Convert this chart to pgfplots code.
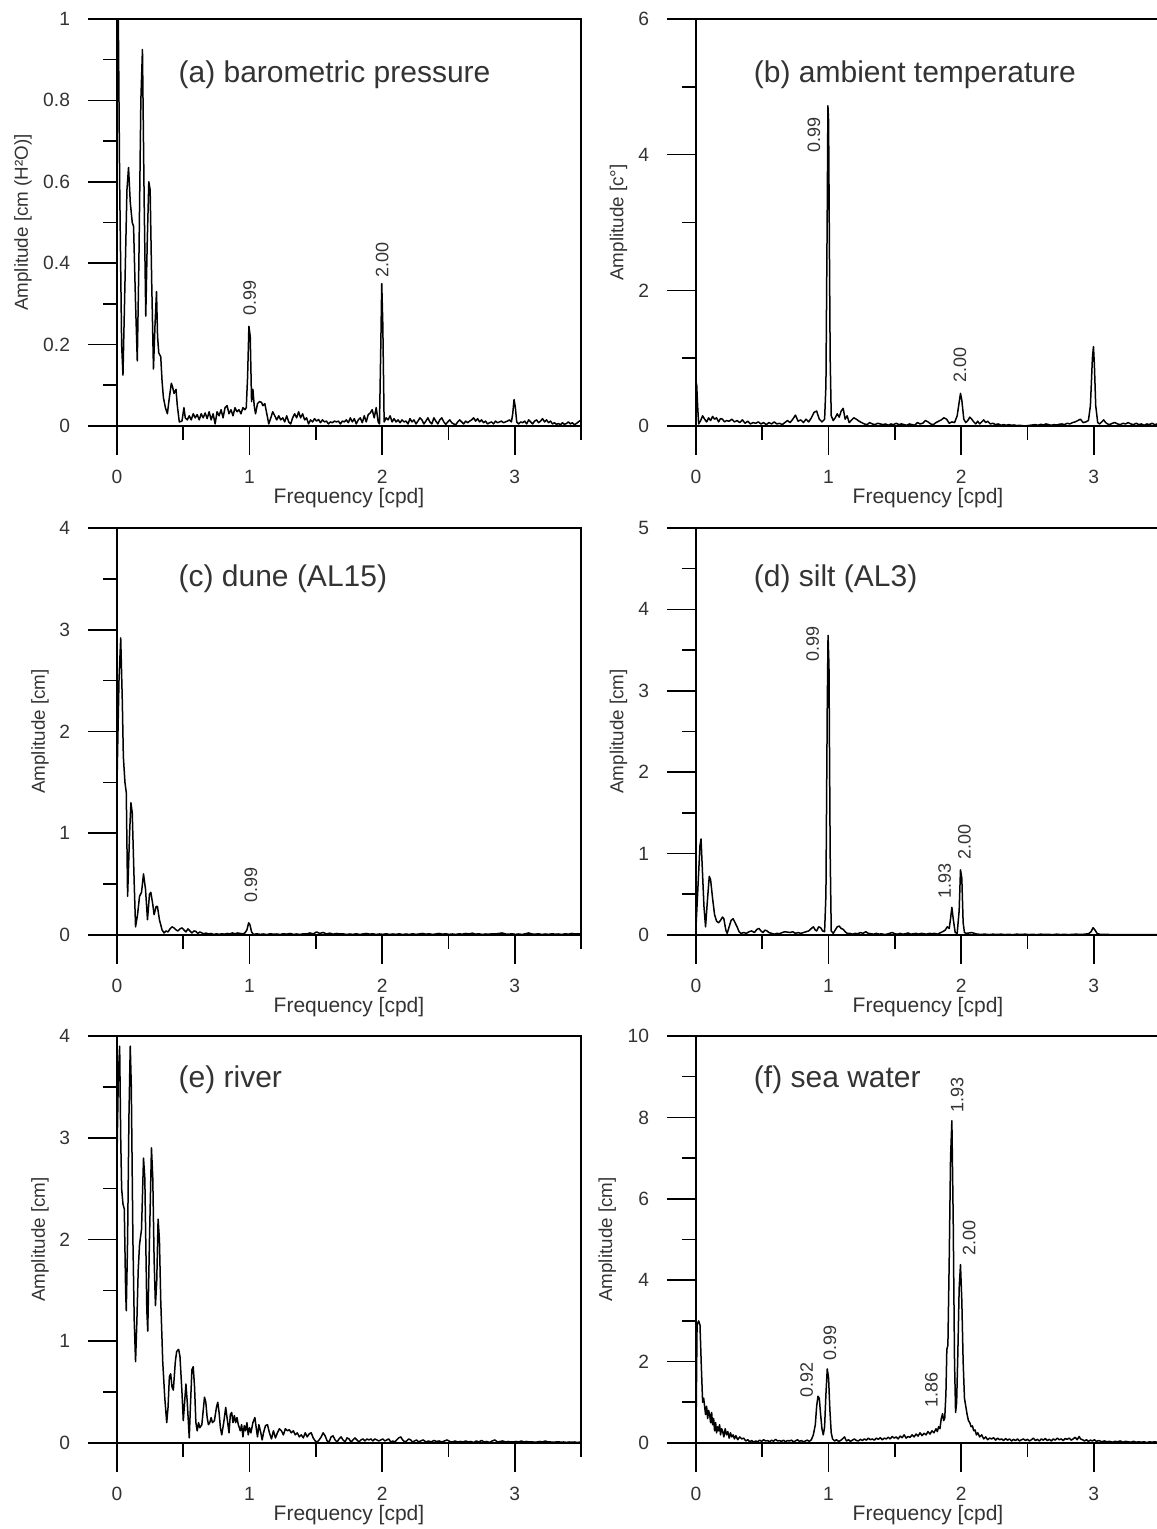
\documentclass[border=0pt]{standalone}
\usepackage{pgfplots}
\pgfplotsset{compat=1.18}
\usepackage{fontspec}
\setmainfont{Liberation Sans}
\definecolor{txt}{gray}{0.2}
\tikzset{
 ttl/.style={font=\fontsize{15}{18}\selectfont, text=txt, anchor=west, inner xsep=0pt},
 pk/.style={font=\fontsize{9}{11}\selectfont, text=txt, rotate=90, inner sep=1pt},
}
\pgfplotsset{
 panel/.style={
  scale only axis, width=232pt, height=203.5pt,
  anchor=south west,
  xmin=0, xmax=3.5, ymin=0,
  axis line style={line width=0.8pt, black},
  every tick/.style={line width=0.8pt, black},
  tick align=outside, tick pos=left,
  major tick length=14.5pt, minor tick length=7pt,
  xtick={0,1,2,3}, minor xtick={0.5,1.5,2.5,3.5},
  /pgf/number format/assume math mode=true,
  tick label style={font=\fontsize{9.6}{11}\selectfont, text=txt},
  xticklabel shift=4pt, yticklabel shift=5.5pt,
  label style={text=txt},
  xlabel={Frequency [cpd]},
  xlabel style={font=\fontsize{10.5}{12}\selectfont, at={(axis description cs:0.5,-0.176)}, anchor=center},
  ylabel style={font=\fontsize{9.4}{11}\selectfont, anchor=center},
  clip=true,
 },
 spec/.style={black, line width=0.75pt, line join=round},
}
\begin{document}
\begin{tikzpicture}
\useasboundingbox (0,0) rectangle (578pt,764.5pt);
% (a)
\begin{axis}[panel, at={(58.5pt,551.5pt)}, ymax=1,
  ytick={0,0.2,0.4,0.6,0.8,1}, minor ytick={0.1,0.3,0.5,0.7,0.9},
  ylabel={Amplitude [cm (H²O)]}, ylabel style={at={(axis description cs:-0.2025,0.5)}}]
\addplot[spec] coordinates {(0,0.98)(0.01,1.0)(0.02,0.6)(0.035,0.2)(0.045,0.125)(0.06,0.35)(0.075,0.58)(0.087,0.635)(0.1,0.55)(0.115,0.5)(0.125,0.49)(0.14,0.3)(0.153,0.16)(0.165,0.4)(0.18,0.8)(0.192,0.925)(0.205,0.55)(0.217,0.27)(0.228,0.45)(0.24,0.60)(0.25,0.58)(0.262,0.35)(0.275,0.14)(0.287,0.25)(0.298,0.33)(0.306,0.22)(0.315,0.18)(0.33,0.17)(0.34,0.11)(0.35,0.07)(0.365,0.045)(0.38,0.03)(0.395,0.07)(0.41,0.105)(0.42,0.095)(0.43,0.08)(0.445,0.09)(0.455,0.05)(0.47,0.01)(0.49,0.012)(0.505,0.045)(0.515,0.02)(0.53,0.015)(0.545,0.025)(0.56,0.015)(0.575,0.03)(0.59,0.02)(0.605,0.028)(0.62,0.015)(0.635,0.03)(0.65,0.02)(0.665,0.032)(0.68,0.018)(0.695,0.035)(0.71,0.015)(0.725,0.03)(0.74,0.005)(0.755,0.035)(0.77,0.025)(0.785,0.04)(0.8,0.02)(0.815,0.045)(0.83,0.05)(0.845,0.03)(0.86,0.04)(0.875,0.025)(0.89,0.045)(0.905,0.035)(0.92,0.04)(0.935,0.03)(0.95,0.045)(0.965,0.04)(0.975,0.045)(0.985,0.12)(0.995,0.245)(1.005,0.22)(1.015,0.06)(1.025,0.09)(1.035,0.05)(1.045,0.03)(1.06,0.055)(1.075,0.06)(1.09,0.058)(1.1,0.05)(1.115,0.055)(1.13,0.03)(1.145,0.005)(1.16,0.02)(1.175,0.035)(1.19,0.025)(1.205,0.015)(1.22,0.025)(1.235,0.015)(1.25,0.02)(1.265,0.01)(1.28,0.025)(1.295,0.01)(1.31,0.005)(1.325,0.02)(1.34,0.03)(1.355,0.02)(1.37,0.035)(1.385,0.02)(1.4,0.03)(1.415,0.015)(1.43,0.02)(1.445,0.005)(1.46,0.015)(1.475,0.01)(1.49,0.018)(1.505,0.012)(1.52,0.016)(1.535,0.008)(1.55,0.015)(1.565,0.01)(1.58,0.012)(1.595,0.005)(1.61,0.01)(1.625,0.008)(1.64,0.012)(1.655,0.01)(1.67,0.012)(1.685,0.005)(1.7,0.012)(1.715,0.01)(1.73,0.015)(1.745,0.008)(1.76,0.02)(1.775,0.01)(1.79,0.018)(1.805,0.005)(1.82,0.015)(1.835,0.02)(1.85,0.008)(1.865,0.025)(1.88,0.01)(1.895,0.028)(1.91,0.032)(1.925,0.04)(1.94,0.02)(1.955,0.045)(1.97,0.01)(1.98,0.005)(1.99,0.2)(1.997,0.35)(2.005,0.25)(2.015,0.01)(2.03,0.02)(2.045,0.015)(2.06,0.025)(2.075,0.01)(2.09,0.018)(2.105,0.01)(2.12,0.015)(2.135,0.008)(2.15,0.015)(2.165,0.01)(2.18,0.012)(2.195,0.005)(2.21,0.018)(2.225,0.01)(2.24,0.015)(2.255,0.005)(2.27,0.012)(2.285,0.02)(2.3,0.015)(2.315,0.005)(2.33,0.012)(2.345,0.02)(2.36,0.01)(2.375,0.005)(2.39,0.02)(2.405,0.012)(2.42,0.005)(2.435,0.015)(2.45,0.02)(2.465,0.01)(2.48,0.004)(2.495,0.01)(2.51,0.015)(2.525,0.008)(2.54,0.005)(2.555,0.003)(2.57,0.01)(2.585,0.015)(2.6,0.01)(2.615,0.005)(2.63,0.012)(2.645,0.008)(2.66,0.012)(2.675,0.015)(2.69,0.02)(2.705,0.012)(2.72,0.018)(2.735,0.01)(2.75,0.015)(2.765,0.008)(2.78,0.012)(2.795,0.005)(2.81,0.008)(2.825,0.01)(2.84,0.005)(2.855,0.012)(2.87,0.008)(2.885,0.01)(2.9,0.012)(2.915,0.008)(2.93,0.01)(2.945,0.012)(2.96,0.015)(2.975,0.01)(2.985,0.03)(2.995,0.065)(3.005,0.045)(3.015,0.01)(3.03,0.005)(3.045,0.01)(3.06,0.008)(3.075,0.012)(3.09,0.005)(3.105,0.015)(3.12,0.01)(3.135,0.005)(3.15,0.012)(3.165,0.015)(3.18,0.008)(3.195,0.012)(3.21,0.018)(3.225,0.01)(3.24,0.015)(3.255,0.008)(3.27,0.012)(3.285,0.005)(3.3,0.008)(3.315,0.004)(3.33,0.006)(3.345,0.003)(3.36,0.008)(3.375,0.004)(3.39,0.006)(3.405,0.01)(3.42,0.005)(3.435,0.008)(3.45,0.003)(3.465,0.006)(3.48,0.01)(3.5,0.015)};
\node[ttl] at (rel axis cs:0.132,0.862) {(a) barometric pressure};
\node[pk, anchor=west] at (axis cs:1.0,0.265) {0.99};
\node[pk, anchor=west] at (axis cs:2.0,0.36) {2.00};
\end{axis}
% (b)
\begin{axis}[panel, at={(348pt,551.5pt)}, ymax=6,
  ytick={0,2,4,6}, minor ytick={1,3,5},
  ylabel={Amplitude [c°]}, ylabel style={at={(axis description cs:-0.167,0.5)}}]
\addplot[spec] coordinates {(0,0.05)(0.005,0.62)(0.012,0.3)(0.02,0.03)(0.035,0.08)(0.05,0.15)(0.065,0.1)(0.08,0.06)(0.095,0.12)(0.11,0.08)(0.125,0.14)(0.14,0.1)(0.155,0.12)(0.17,0.06)(0.185,0.11)(0.2,0.1)(0.215,0.06)(0.23,0.08)(0.25,0.07)(0.27,0.1)(0.29,0.06)(0.31,0.08)(0.33,0.05)(0.35,0.09)(0.37,0.04)(0.39,0.07)(0.41,0.03)(0.43,0.05)(0.45,0.04)(0.47,0.06)(0.49,0.03)(0.51,0.05)(0.53,0.02)(0.55,0.05)(0.57,0.03)(0.59,0.06)(0.61,0.03)(0.63,0.04)(0.65,0.02)(0.67,0.05)(0.69,0.08)(0.71,0.05)(0.73,0.1)(0.75,0.16)(0.77,0.07)(0.79,0.09)(0.81,0.05)(0.83,0.1)(0.85,0.06)(0.87,0.12)(0.89,0.2)(0.91,0.22)(0.93,0.1)(0.95,0.06)(0.97,0.1)(0.98,0.6)(0.99,3.2)(0.995,4.72)(1.0,4.5)(1.005,3.0)(1.012,1.0)(1.02,0.15)(1.035,0.08)(1.05,0.12)(1.065,0.18)(1.08,0.13)(1.095,0.22)(1.11,0.26)(1.125,0.1)(1.14,0.15)(1.155,0.05)(1.17,0.08)(1.19,0.12)(1.21,0.1)(1.23,0.07)(1.25,0.05)(1.27,0.03)(1.29,0.02)(1.31,0.05)(1.33,0.03)(1.35,0.02)(1.37,0.04)(1.39,0.03)(1.41,0.02)(1.43,0.03)(1.45,0.01)(1.47,0.03)(1.49,0.02)(1.51,0.04)(1.53,0.02)(1.55,0.03)(1.57,0.02)(1.59,0.01)(1.61,0.03)(1.63,0.02)(1.65,0.01)(1.67,0.05)(1.69,0.03)(1.71,0.04)(1.73,0.08)(1.75,0.06)(1.77,0.03)(1.79,0.02)(1.81,0.05)(1.83,0.07)(1.85,0.09)(1.87,0.12)(1.89,0.1)(1.91,0.04)(1.93,0.06)(1.95,0.05)(1.97,0.15)(1.985,0.35)(1.995,0.48)(2.005,0.38)(2.02,0.1)(2.035,0.05)(2.05,0.08)(2.065,0.13)(2.08,0.1)(2.095,0.06)(2.11,0.03)(2.125,0.07)(2.14,0.03)(2.155,0.06)(2.17,0.09)(2.185,0.05)(2.2,0.07)(2.22,0.03)(2.24,0.04)(2.26,0.02)(2.28,0.03)(2.3,0.01)(2.32,0.02)(2.34,0.01)(2.36,0.02)(2.38,0.01)(2.4,0.015)(2.42,0.005)(2.44,0.01)(2.46,0.005)(2.48,0.0)(2.5,0.005)(2.52,0.01)(2.54,0.015)(2.56,0.02)(2.58,0.01)(2.6,0.025)(2.62,0.015)(2.64,0.03)(2.66,0.02)(2.68,0.01)(2.7,0.02)(2.72,0.015)(2.74,0.025)(2.76,0.03)(2.78,0.02)(2.8,0.04)(2.82,0.03)(2.84,0.05)(2.86,0.06)(2.88,0.08)(2.9,0.1)(2.92,0.05)(2.94,0.06)(2.96,0.08)(2.975,0.3)(2.99,1.0)(2.998,1.17)(3.005,0.9)(3.015,0.3)(3.03,0.05)(3.045,0.03)(3.06,0.06)(3.075,0.09)(3.09,0.05)(3.105,0.03)(3.12,0.02)(3.14,0.04)(3.16,0.05)(3.18,0.03)(3.2,0.02)(3.22,0.04)(3.24,0.03)(3.26,0.05)(3.28,0.03)(3.3,0.02)(3.32,0.04)(3.34,0.02)(3.36,0.03)(3.38,0.01)(3.4,0.03)(3.42,0.02)(3.44,0.04)(3.46,0.02)(3.48,0.03)(3.5,0.02)};
\node[ttl] at (rel axis cs:0.124,0.862) {(b) ambient temperature};
\node[pk, anchor=east] at (axis cs:0.89,4.58) {0.99};
\node[pk, anchor=west] at (axis cs:1.99,0.6) {2.00};
\end{axis}
% (c)
\begin{axis}[panel, at={(58.5pt,297pt)}, ymax=4,
  ytick={0,1,2,3,4}, minor ytick={0.5,1.5,2.5,3.5},
  ylabel={Amplitude [cm]}, ylabel style={at={(axis description cs:-0.166,0.5)}}]
\addplot[spec] coordinates {(0,1.5)(0.015,2.5)(0.028,2.92)(0.04,2.3)(0.048,1.75)(0.06,1.5)(0.07,1.4)(0.08,0.38)(0.095,1.0)(0.105,1.3)(0.115,1.2)(0.13,0.5)(0.14,0.08)(0.155,0.2)(0.17,0.38)(0.185,0.42)(0.2,0.6)(0.215,0.45)(0.23,0.15)(0.245,0.4)(0.255,0.42)(0.27,0.3)(0.28,0.2)(0.295,0.28)(0.305,0.28)(0.32,0.15)(0.34,0.05)(0.355,0.02)(0.37,0.04)(0.385,0.03)(0.4,0.06)(0.415,0.08)(0.43,0.07)(0.445,0.05)(0.46,0.04)(0.475,0.06)(0.49,0.07)(0.505,0.05)(0.52,0.03)(0.535,0.06)(0.55,0.04)(0.565,0.02)(0.58,0.04)(0.595,0.035)(0.61,0.015)(0.625,0.03)(0.64,0.02)(0.655,0.01)(0.67,0.02)(0.69,0.01)(0.71,0.015)(0.73,0.005)(0.75,0.012)(0.77,0.006)(0.79,0.012)(0.81,0.008)(0.83,0.015)(0.85,0.01)(0.87,0.02)(0.89,0.012)(0.91,0.02)(0.93,0.015)(0.95,0.01)(0.965,0.02)(0.98,0.05)(0.993,0.12)(1.003,0.1)(1.015,0.03)(1.03,0.005)(1.055,0.012)(1.08,0.006)(1.105,0.01)(1.13,0.004)(1.155,0.012)(1.18,0.008)(1.205,0.01)(1.23,0.005)(1.255,0.012)(1.28,0.008)(1.305,0.015)(1.33,0.006)(1.355,0.01)(1.38,0.005)(1.405,0.012)(1.43,0.01)(1.455,0.02)(1.48,0.01)(1.505,0.03)(1.53,0.015)(1.555,0.025)(1.58,0.01)(1.605,0.018)(1.63,0.008)(1.655,0.015)(1.68,0.01)(1.705,0.012)(1.73,0.005)(1.755,0.01)(1.78,0.006)(1.805,0.012)(1.83,0.005)(1.855,0.01)(1.88,0.015)(1.905,0.008)(1.93,0.012)(1.955,0.005)(1.98,0.01)(2.005,0.006)(2.03,0.012)(2.055,0.005)(2.08,0.01)(2.105,0.006)(2.13,0.012)(2.155,0.004)(2.18,0.01)(2.205,0.005)(2.23,0.012)(2.255,0.006)(2.28,0.01)(2.305,0.015)(2.33,0.008)(2.355,0.012)(2.38,0.005)(2.405,0.01)(2.43,0.015)(2.455,0.008)(2.48,0.012)(2.505,0.006)(2.53,0.01)(2.555,0.005)(2.58,0.012)(2.605,0.008)(2.63,0.015)(2.655,0.01)(2.68,0.018)(2.705,0.008)(2.73,0.012)(2.755,0.005)(2.78,0.01)(2.805,0.008)(2.83,0.012)(2.855,0.01)(2.88,0.015)(2.905,0.02)(2.93,0.01)(2.955,0.008)(2.98,0.012)(3.005,0.006)(3.03,0.01)(3.055,0.005)(3.08,0.012)(3.105,0.02)(3.13,0.01)(3.155,0.008)(3.18,0.012)(3.205,0.005)(3.23,0.01)(3.255,0.006)(3.28,0.012)(3.305,0.008)(3.33,0.01)(3.355,0.005)(3.38,0.012)(3.405,0.008)(3.43,0.015)(3.455,0.01)(3.48,0.012)(3.5,0.008)};
\node[ttl] at (rel axis cs:0.132,0.876) {(c) dune (AL15)};
\node[pk, anchor=west] at (axis cs:1.01,0.3) {0.99};
\end{axis}
% (d)
\begin{axis}[panel, at={(348pt,297pt)}, ymax=5,
  ytick={0,1,2,3,4,5}, minor ytick={0.5,1.5,2.5,3.5,4.5},
  ylabel={Amplitude [cm]}, ylabel style={at={(axis description cs:-0.167,0.5)}}]
\addplot[spec] coordinates {(0,0.1)(0.015,0.6)(0.03,1.1)(0.038,1.18)(0.048,0.8)(0.06,0.35)(0.072,0.1)(0.085,0.4)(0.1,0.72)(0.11,0.68)(0.125,0.45)(0.14,0.25)(0.155,0.17)(0.17,0.15)(0.185,0.18)(0.2,0.22)(0.21,0.2)(0.225,0.06)(0.235,0.02)(0.25,0.1)(0.265,0.18)(0.28,0.2)(0.295,0.15)(0.31,0.1)(0.325,0.04)(0.34,0.02)(0.36,0.03)(0.38,0.02)(0.4,0.04)(0.42,0.05)(0.44,0.03)(0.46,0.07)(0.475,0.08)(0.49,0.05)(0.505,0.03)(0.52,0.06)(0.535,0.05)(0.55,0.03)(0.57,0.02)(0.59,0.01)(0.61,0.02)(0.63,0.015)(0.65,0.03)(0.67,0.04)(0.69,0.035)(0.71,0.03)(0.73,0.04)(0.75,0.02)(0.77,0.03)(0.79,0.02)(0.81,0.03)(0.83,0.04)(0.85,0.05)(0.87,0.08)(0.885,0.1)(0.9,0.06)(0.91,0.05)(0.925,0.1)(0.94,0.09)(0.955,0.05)(0.97,0.04)(0.98,0.5)(0.99,2.8)(0.996,3.68)(1.003,3.3)(1.012,1.0)(1.02,0.05)(1.035,0.02)(1.05,0.06)(1.065,0.1)(1.08,0.11)(1.095,0.08)(1.11,0.07)(1.125,0.04)(1.14,0.02)(1.16,0.02)(1.18,0.01)(1.2,0.02)(1.22,0.015)(1.24,0.03)(1.26,0.02)(1.28,0.04)(1.3,0.02)(1.32,0.015)(1.34,0.01)(1.36,0.02)(1.38,0.01)(1.4,0.015)(1.42,0.005)(1.44,0.01)(1.46,0.02)(1.48,0.03)(1.5,0.015)(1.52,0.01)(1.54,0.02)(1.56,0.01)(1.58,0.015)(1.6,0.025)(1.62,0.01)(1.64,0.015)(1.66,0.02)(1.68,0.01)(1.7,0.02)(1.72,0.015)(1.74,0.01)(1.76,0.02)(1.78,0.015)(1.8,0.02)(1.82,0.01)(1.84,0.025)(1.86,0.04)(1.88,0.06)(1.895,0.1)(1.91,0.08)(1.92,0.2)(1.93,0.34)(1.94,0.2)(1.955,0.03)(1.97,0.02)(1.985,0.3)(1.995,0.8)(2.005,0.7)(2.015,0.15)(2.025,0.03)(2.04,0.02)(2.06,0.025)(2.08,0.03)(2.1,0.02)(2.12,0.01)(2.15,0.008)(2.18,0.01)(2.21,0.005)(2.24,0.01)(2.27,0.006)(2.3,0.01)(2.33,0.005)(2.36,0.008)(2.39,0.004)(2.42,0.01)(2.45,0.006)(2.48,0.01)(2.51,0.005)(2.54,0.008)(2.57,0.004)(2.6,0.01)(2.63,0.006)(2.66,0.008)(2.69,0.004)(2.72,0.01)(2.75,0.005)(2.78,0.008)(2.81,0.004)(2.84,0.008)(2.87,0.01)(2.9,0.006)(2.93,0.01)(2.96,0.015)(2.98,0.04)(2.995,0.09)(3.01,0.06)(3.025,0.02)(3.04,0.01)(3.07,0.006)(3.1,0.008)(3.13,0.004)(3.16,0.006)(3.19,0.003)(3.22,0.006)(3.25,0.004)(3.28,0.006)(3.31,0.003)(3.34,0.005)(3.37,0.003)(3.4,0.005)(3.43,0.004)(3.46,0.006)(3.5,0.005)};
\node[ttl] at (rel axis cs:0.124,0.875) {(d) silt (AL3)};
\node[pk, anchor=east] at (axis cs:0.88,3.82) {0.99};
\node[pk, anchor=west] at (axis cs:1.875,0.42) {1.93};
\node[pk, anchor=west] at (axis cs:2.025,0.9) {2.00};
\end{axis}
% (e)
\begin{axis}[panel, at={(58.5pt,43pt)}, ymax=4,
  ytick={0,1,2,3,4}, minor ytick={0.5,1.5,2.5,3.5},
  ylabel={Amplitude [cm]}, ylabel style={at={(axis description cs:-0.166,0.5)}}]
\addplot[spec] coordinates {(0,2.8)(0.01,3.6)(0.02,3.9)(0.028,3.0)(0.035,2.5)(0.045,2.35)(0.055,2.3)(0.065,1.5)(0.07,1.3)(0.08,2.0)(0.09,3.2)(0.1,3.9)(0.108,3.5)(0.12,2.0)(0.13,1.2)(0.14,0.8)(0.15,1.2)(0.16,1.7)(0.17,1.95)(0.185,2.1)(0.2,2.8)(0.21,2.6)(0.225,1.3)(0.232,1.1)(0.245,2.0)(0.26,2.9)(0.27,2.6)(0.28,1.8)(0.29,1.35)(0.3,1.6)(0.31,2.2)(0.32,2.0)(0.33,1.4)(0.345,0.8)(0.36,0.45)(0.375,0.2)(0.385,0.35)(0.395,0.65)(0.405,0.68)(0.415,0.55)(0.425,0.52)(0.44,0.8)(0.45,0.9)(0.465,0.92)(0.475,0.85)(0.49,0.5)(0.5,0.22)(0.51,0.4)(0.52,0.58)(0.53,0.4)(0.545,0.05)(0.555,0.4)(0.565,0.72)(0.575,0.75)(0.585,0.55)(0.595,0.2)(0.605,0.12)(0.615,0.2)(0.625,0.15)(0.64,0.18)(0.66,0.45)(0.67,0.4)(0.68,0.25)(0.69,0.18)(0.7,0.2)(0.71,0.25)(0.72,0.2)(0.735,0.22)(0.75,0.35)(0.76,0.4)(0.77,0.3)(0.78,0.15)(0.79,0.08)(0.805,0.2)(0.82,0.35)(0.835,0.2)(0.845,0.1)(0.855,0.28)(0.865,0.3)(0.875,0.2)(0.885,0.27)(0.895,0.2)(0.905,0.25)(0.915,0.18)(0.93,0.12)(0.94,0.18)(0.95,0.06)(0.96,0.17)(0.97,0.12)(0.98,0.2)(0.99,0.08)(1.0,0.15)(1.01,0.1)(1.025,0.2)(1.04,0.25)(1.05,0.15)(1.06,0.06)(1.07,0.18)(1.085,0.1)(1.095,0.03)(1.105,0.1)(1.12,0.17)(1.135,0.18)(1.15,0.1)(1.165,0.04)(1.18,0.12)(1.195,0.05)(1.21,0.1)(1.225,0.14)(1.24,0.12)(1.255,0.08)(1.27,0.14)(1.285,0.12)(1.3,0.13)(1.315,0.1)(1.33,0.12)(1.345,0.08)(1.36,0.1)(1.375,0.06)(1.39,0.08)(1.405,0.05)(1.42,0.1)(1.435,0.06)(1.45,0.09)(1.465,0.1)(1.48,0.05)(1.495,0.02)(1.51,0.01)(1.525,0.03)(1.54,0.06)(1.555,0.1)(1.57,0.07)(1.585,0.02)(1.6,0.01)(1.615,0.06)(1.63,0.07)(1.645,0.03)(1.66,0.01)(1.675,0.04)(1.69,0.06)(1.705,0.03)(1.72,0.01)(1.735,0.05)(1.75,0.04)(1.765,0.01)(1.78,0.03)(1.795,0.05)(1.81,0.03)(1.825,0.01)(1.84,0.03)(1.855,0.04)(1.87,0.02)(1.885,0.04)(1.9,0.03)(1.915,0.04)(1.93,0.02)(1.945,0.04)(1.96,0.03)(1.975,0.02)(1.99,0.03)(2.005,0.04)(2.02,0.02)(2.035,0.03)(2.05,0.04)(2.065,0.01)(2.08,0.02)(2.095,0.01)(2.11,0.03)(2.125,0.05)(2.14,0.06)(2.155,0.03)(2.17,0.01)(2.185,0.02)(2.2,0.04)(2.215,0.03)(2.23,0.01)(2.245,0.02)(2.26,0.03)(2.275,0.01)(2.29,0.02)(2.31,0.03)(2.33,0.01)(2.35,0.02)(2.37,0.01)(2.39,0.025)(2.41,0.015)(2.43,0.02)(2.45,0.01)(2.47,0.02)(2.49,0.03)(2.51,0.015)(2.53,0.01)(2.55,0.02)(2.57,0.01)(2.59,0.015)(2.61,0.01)(2.63,0.02)(2.65,0.01)(2.67,0.015)(2.69,0.005)(2.71,0.02)(2.73,0.01)(2.75,0.025)(2.77,0.01)(2.79,0.015)(2.81,0.005)(2.83,0.02)(2.85,0.03)(2.87,0.01)(2.89,0.015)(2.91,0.02)(2.93,0.01)(2.95,0.015)(2.97,0.01)(2.99,0.01)(3.01,0.015)(3.03,0.01)(3.05,0.02)(3.07,0.01)(3.09,0.015)(3.11,0.01)(3.13,0.012)(3.15,0.008)(3.17,0.01)(3.19,0.015)(3.21,0.01)(3.23,0.02)(3.25,0.01)(3.27,0.01)(3.29,0.008)(3.31,0.01)(3.33,0.012)(3.35,0.008)(3.37,0.01)(3.39,0.006)(3.41,0.01)(3.43,0.008)(3.45,0.01)(3.47,0.005)(3.5,0.01)};
\node[ttl] at (rel axis cs:0.132,0.892) {(e) river};
\end{axis}
% (f)
\begin{axis}[panel, at={(348pt,43pt)}, ymax=10,
  ytick={0,2,4,6,8,10}, minor ytick={1,3,5,7,9},
  ylabel={Amplitude [cm]}, ylabel style={at={(axis description cs:-0.191,0.5)}}]
\addplot[spec] coordinates {(0,0.3)(0.008,2.9)(0.02,3.0)(0.03,2.9)(0.04,1.9)(0.05,1.0)(0.058,1.1)(0.065,0.9)(0.072,0.7)(0.08,0.9)(0.088,0.6)(0.095,0.8)(0.103,0.7)(0.11,0.5)(0.118,0.75)(0.125,0.45)(0.133,0.6)(0.14,0.3)(0.148,0.5)(0.155,0.25)(0.163,0.4)(0.17,0.3)(0.178,0.45)(0.185,0.2)(0.193,0.35)(0.2,0.3)(0.21,0.15)(0.22,0.35)(0.23,0.2)(0.24,0.28)(0.25,0.12)(0.26,0.25)(0.27,0.15)(0.28,0.2)(0.29,0.1)(0.3,0.18)(0.315,0.08)(0.33,0.15)(0.345,0.1)(0.36,0.12)(0.375,0.05)(0.39,0.08)(0.405,0.03)(0.42,0.06)(0.435,0.02)(0.45,0.05)(0.465,0.03)(0.48,0.07)(0.495,0.04)(0.51,0.08)(0.525,0.05)(0.54,0.06)(0.555,0.03)(0.57,0.07)(0.585,0.04)(0.6,0.09)(0.615,0.05)(0.63,0.06)(0.645,0.04)(0.66,0.07)(0.675,0.03)(0.69,0.06)(0.705,0.05)(0.72,0.07)(0.735,0.03)(0.75,0.05)(0.765,0.08)(0.78,0.04)(0.795,0.06)(0.81,0.03)(0.825,0.05)(0.84,0.07)(0.855,0.04)(0.87,0.08)(0.885,0.2)(0.9,0.45)(0.91,0.9)(0.92,1.15)(0.93,1.1)(0.94,0.7)(0.95,0.35)(0.96,0.2)(0.97,0.4)(0.98,1.2)(0.99,1.82)(1.0,1.6)(1.01,0.8)(1.02,0.25)(1.03,0.1)(1.045,0.05)(1.06,0.08)(1.075,0.04)(1.09,0.06)(1.105,0.1)(1.12,0.15)(1.135,0.05)(1.15,0.08)(1.165,0.04)(1.18,0.07)(1.195,0.1)(1.21,0.06)(1.225,0.05)(1.24,0.09)(1.255,0.06)(1.27,0.1)(1.285,0.07)(1.3,0.12)(1.315,0.08)(1.33,0.1)(1.345,0.07)(1.36,0.12)(1.375,0.09)(1.39,0.13)(1.405,0.08)(1.42,0.12)(1.435,0.1)(1.45,0.14)(1.465,0.1)(1.48,0.16)(1.495,0.12)(1.51,0.15)(1.525,0.1)(1.54,0.17)(1.555,0.13)(1.57,0.2)(1.585,0.12)(1.6,0.16)(1.615,0.14)(1.63,0.2)(1.645,0.15)(1.66,0.22)(1.675,0.17)(1.69,0.25)(1.705,0.18)(1.72,0.24)(1.735,0.2)(1.75,0.28)(1.765,0.22)(1.78,0.3)(1.795,0.25)(1.81,0.35)(1.82,0.28)(1.83,0.4)(1.84,0.35)(1.85,0.6)(1.86,0.72)(1.868,0.55)(1.876,0.6)(1.885,1.2)(1.892,2.3)(1.9,2.4)(1.91,4.5)(1.92,7.0)(1.93,7.92)(1.94,5.5)(1.95,2.0)(1.958,0.75)(1.966,1.0)(1.975,2.2)(1.985,3.8)(1.995,4.38)(2.005,3.5)(2.015,2.0)(2.025,1.1)(2.035,0.9)(2.045,0.7)(2.055,0.55)(2.065,0.5)(2.075,0.4)(2.085,0.42)(2.095,0.3)(2.105,0.32)(2.115,0.2)(2.125,0.25)(2.14,0.15)(2.155,0.2)(2.17,0.1)(2.185,0.15)(2.2,0.08)(2.215,0.12)(2.23,0.1)(2.245,0.13)(2.26,0.07)(2.275,0.12)(2.29,0.08)(2.305,0.1)(2.32,0.06)(2.335,0.11)(2.35,0.07)(2.365,0.1)(2.38,0.05)(2.395,0.09)(2.41,0.06)(2.425,0.1)(2.44,0.05)(2.455,0.08)(2.47,0.1)(2.485,0.06)(2.5,0.09)(2.515,0.05)(2.53,0.08)(2.545,0.12)(2.56,0.06)(2.575,0.09)(2.59,0.05)(2.605,0.1)(2.62,0.07)(2.635,0.11)(2.65,0.06)(2.665,0.09)(2.68,0.05)(2.695,0.1)(2.71,0.07)(2.725,0.12)(2.74,0.08)(2.755,0.1)(2.77,0.06)(2.785,0.11)(2.8,0.09)(2.815,0.12)(2.83,0.07)(2.845,0.1)(2.86,0.14)(2.875,0.08)(2.89,0.16)(2.9,0.1)(2.915,0.08)(2.93,0.05)(2.945,0.08)(2.96,0.04)(2.975,0.07)(2.99,0.05)(3.005,0.08)(3.02,0.04)(3.04,0.06)(3.06,0.03)(3.08,0.05)(3.1,0.03)(3.12,0.04)(3.14,0.02)(3.16,0.04)(3.18,0.03)(3.2,0.05)(3.22,0.02)(3.24,0.04)(3.26,0.03)(3.28,0.02)(3.3,0.04)(3.32,0.02)(3.34,0.03)(3.36,0.02)(3.38,0.03)(3.4,0.01)(3.42,0.03)(3.44,0.02)(3.46,0.03)(3.48,0.02)(3.5,0.03)};
\node[ttl] at (rel axis cs:0.124,0.892) {(f) sea water};
\node[pk, anchor=west] at (axis cs:0.835,1.07) {0.92};
\node[pk, anchor=west] at (axis cs:1.01,1.96) {0.99};
\node[pk, anchor=west] at (axis cs:1.775,0.82) {1.86};
\node[pk, anchor=west] at (axis cs:1.97,8.06) {1.93};
\node[pk, anchor=west] at (axis cs:2.06,4.54) {2.00};
\end{axis}
\end{tikzpicture}
\end{document}
